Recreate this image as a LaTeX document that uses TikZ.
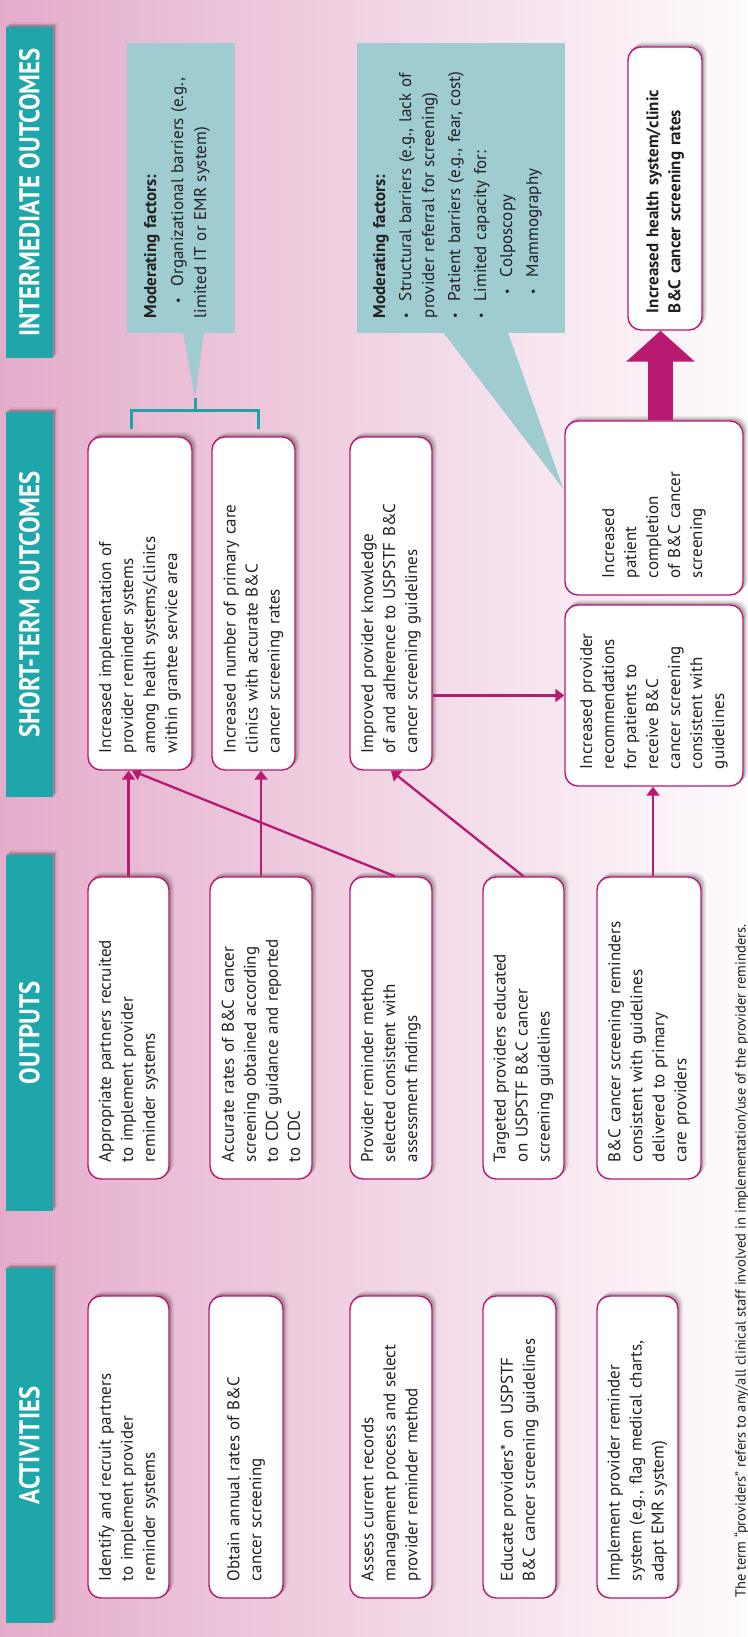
\documentclass[tikz,border=0pt]{standalone}
\usepackage{fontspec}
\setmainfont{PT Sans}
\newfontfamily\headfont[FakeStretch=0.87]{PT Sans}
\usetikzlibrary{arrows.meta}
\definecolor{bgpink}{HTML}{E4ACCA}
\definecolor{bgmid}{HTML}{F1D2E3}
\definecolor{bgwhite}{HTML}{FEFBFD}
\definecolor{hdrteal}{HTML}{1FA6AB}
\definecolor{modteal}{HTML}{9ECCD1}
\definecolor{brteal}{HTML}{1FA2A9}
\definecolor{linkmag}{HTML}{B81A71}
\definecolor{ink}{HTML}{231F20}
\pgfdeclarelayer{back}
\pgfdeclarelayer{shade}
\pgfdeclarelayer{links}
\pgfsetlayers{back,shade,links,main}

\newcommand\bodyfont{\fontsize{17}{22}\selectfont}
% bullet line with optional left offset and hanging indent
\newcommand\bul[2][0pt]{\par\hangindent=\dimexpr#1+17pt\relax\hangafter=1\noindent\hspace*{#1}\makebox[17pt][l]{\raisebox{1pt}{\fontsize{12}{12}\selectfont\textbullet}}#2}

\tikzset{
  hdr/.style={rotate=90, fill=hdrteal, minimum height=47pt, inner sep=0pt,
    text=white, font=\headfont\bfseries\fontsize{28.5}{30}\selectfont},
  box/.style={rotate=90, draw=linkmag, line width=1.4pt, fill=white,
    rounded corners=13pt, align=left, inner xsep=17pt, inner ysep=0pt,
    text=ink, font=\bodyfont},
  modbox/.style={rotate=90, fill=modteal, inner sep=0pt},
  modtext/.style={rotate=90, align=left, inner sep=0pt, text=ink,
    font=\fontsize{17}{23}\selectfont, anchor=north},
  link/.style={draw=linkmag, line width=2.3pt, -{Triangle[length=9pt,width=13pt]}},
  bracket/.style={draw=brteal, line width=3pt},
  shadowlayer/.style={fill=black, opacity=#1},
}

% soft shadow up and to the right of a named node
\newcommand\softshadow[2]{%
  \foreach \s/\o in {1.5/0.16, 3/0.10, 4.5/0.06}{%
    \fill[shadowlayer=\o, rounded corners=#2]
      ([xshift=\s pt,yshift=\s pt]#1.north west) rectangle ([xshift=\s pt,yshift=\s pt]#1.south east);}}

\begin{document}
\begin{tikzpicture}[x=1pt,y=-1pt]
\useasboundingbox (0,0) rectangle (747,1637);
\begin{pgfonlayer}{back}
  \shade[left color=bgpink, middle color=bgmid, right color=bgwhite] (0,0) rectangle (747,1637);
\end{pgfonlayer}

% column headers
\node[hdr, minimum width=331pt] (hint) at (29.5,192.5) {INTERMEDIATE OUTCOMES};
\node[hdr, minimum width=385pt] (hst)  at (29.5,604.5) {SHORT-TERM OUTCOMES};
\node[hdr, minimum width=356pt] (hout) at (29.5,1033) {OUTPUTS};
\node[hdr, minimum width=355pt] (hact) at (29.5,1445.5) {ACTIVITIES};

% activities
\node[box, minimum width=302pt, text width=268pt, minimum height=81pt] (a1) at (128.5,1447)
  {Identify and recruit partners\\to implement provider\\reminder systems};
\node[box, minimum width=302pt, text width=268pt, minimum height=74pt] (a2) at (246,1447)
  {Obtain annual rates of B\&C\\cancer screening};
\node[box, minimum width=302pt, text width=268pt, minimum height=82pt] (a3) at (391,1447)
  {Assess current records\\management process and select\\provider reminder method};
\node[box, minimum width=302pt, text width=268pt, minimum height=73pt] (a4) at (519.5,1447)
  {Educate providers* on USPSTF\\B\&C cancer screening guidelines};
\node[box, minimum width=302pt, text width=268pt, minimum height=81pt] (a5) at (637.5,1447)
  {Implement provider reminder\\system (e.g., flag medical charts,\\adapt EMR system)};

% outputs
\node[box, minimum width=302pt, text width=268pt, minimum height=81pt] (o1) at (128.5,1028)
  {Appropriate partners recruited\\to implement provider\\reminder systems};
\node[box, minimum width=302pt, text width=268pt, minimum height=102pt] (o2) at (261,1028)
  {Accurate rates of B\&C cancer\\screening obtained according\\to CDC guidance and reported\\to CDC};
\node[box, minimum width=302pt, text width=268pt, minimum height=82pt] (o3) at (391,1028)
  {Provider reminder method\\selected consistent with\\assessment findings};
\node[box, minimum width=302pt, text width=268pt, minimum height=81pt] (o4) at (523.5,1028)
  {Targeted providers educated\\on USPSTF B\&C cancer\\screening guidelines};
\node[box, minimum width=302pt, text width=268pt, minimum height=104pt] (o5) at (649,1028)
  {B\&C cancer screening reminders\\consistent with guidelines\\delivered to primary\\care providers};

% short-term outcomes
\node[box, minimum width=333pt, text width=299pt, minimum height=104pt] (s1) at (140,603.5)
  {Increased implementation of\\provider reminder systems\\among health systems/clinics\\within grantee service area};
\node[box, minimum width=333pt, text width=299pt, minimum height=83pt] (s2) at (253.5,603.5)
  {Increased number of primary care\\clinics with accurate B\&C\\cancer screening rates};
\node[box, minimum width=333pt, text width=299pt, minimum height=82pt] (s3) at (391,603.5)
  {Improved provider knowledge\\of and adherence to USPSTF B\&C\\cancer screening guidelines};
\node[box, minimum width=181pt, text width=147pt, minimum height=178pt] (rec) at (654,695.5)
  {Increased provider\\recommendations\\for patients to\\receive B\&C\\cancer screening\\consistent with\\guidelines};
\node[box, minimum width=174pt, text width=140pt, minimum height=178pt] (pat) at (654,508)
  {Increased\\patient\\completion\\of B\&C cancer\\screening};

% intermediate outcome
\node[box, minimum width=283pt, text width=249pt, minimum height=74pt, font=\bodyfont\bfseries] (fin) at (665,188.5)
  {Increased health system/clinic\\B\&C cancer screening rates};

% moderating factors
\node[modbox, minimum width=290pt, minimum height=108pt] (mod1) at (181,188) {};
\node[modtext, text width=260pt] (mod1t) at ([xshift=17pt]mod1.north)
  {\textbf{Moderating factors:}\par\vspace{4pt}
   \bul[15pt]{Organizational barriers (e.g.,\\limited IT or EMR system)}};
\node[modbox, minimum width=290pt, minimum height=208pt] (mod2) at (461,188) {};
\node[modtext, text width=260pt] (mod2t) at ([xshift=16pt]mod2.north)
  {\textbf{Moderating factors:}\par\vspace{3pt}
   \bul{Structural barriers (e.g., lack of\\provider referral for screening)}\par\vspace{3pt}
   \bul{Patient barriers (e.g., fear, cost)}\par\vspace{3pt}
   \bul{Limited capacity for:}\par\vspace{3pt}
   \bul[24pt]{Colposcopy}\par\vspace{3pt}
   \bul[24pt]{Mammography}};

% footnote
\node[rotate=90, anchor=base west, inner sep=0pt, text=ink, font=\fontsize{14.5}{16}\selectfont] (note) at (745.5,1598)
  {The term “providers” refers to any/all clinical staff involved in implementation/use of the provider reminders.};

% shadows
\begin{pgfonlayer}{shade}
  \foreach \n in {hint,hst,hout,hact}{\softshadow{\n}{0pt}}
  \foreach \n in {a1,a2,a3,a4,a5,o1,o2,o3,o4,o5,s1,s2,s3,rec,pat,fin}{\softshadow{\n}{13pt}}
\end{pgfonlayer}

% callouts and bracket
\coordinate (tip1) at (195,398);
\coordinate (brM) at (195,410);
\coordinate (brL) at ([xshift=-9pt,yshift=7pt]s1.east);
\coordinate (brR) at ([xshift=4.5pt,yshift=7pt]s2.east);
\coordinate (tip2) at ([xshift=-1pt,yshift=19pt]pat.north);

\begin{pgfonlayer}{links}
  \fill[modteal] ([xshift=2pt,yshift=1pt]mod1.west) -- ([xshift=23pt,yshift=1pt]mod1.west) -- (tip1) -- cycle;
  \fill[modteal] ([xshift=-18pt,yshift=1pt]mod2.west) -- ([xshift=47pt,yshift=1pt]mod2.west) -- (tip2) -- cycle;
  \draw[bracket] (brL) |- (brM) -| (brR);
  \draw[bracket] (brM) -- (tip1);

  % connectors
  \draw[link] (o1.east) -- (o1.east |- s1.west);
  \draw[link] (o2.east) -- (o2.east |- s2.west);
  \draw[link] ([xshift=4pt]o3.east) -- ([xshift=-8pt]s1.west);
  \draw[link] (o4.east) -- (s3.west);
  \draw[link] ([xshift=4pt]o5.east) -- ([xshift=4pt]o5.east |- rec.west);
  \draw[link] (s3.south |- rec.center) -- (rec.north);
  \draw[draw=linkmag, line width=25pt, -{Triangle[length=31pt,width=67pt]}]
    ([xshift=6.5pt]pat.east) -- ([xshift=6.5pt]pat.east |- fin.west);
\end{pgfonlayer}
\end{tikzpicture}
\end{document}
